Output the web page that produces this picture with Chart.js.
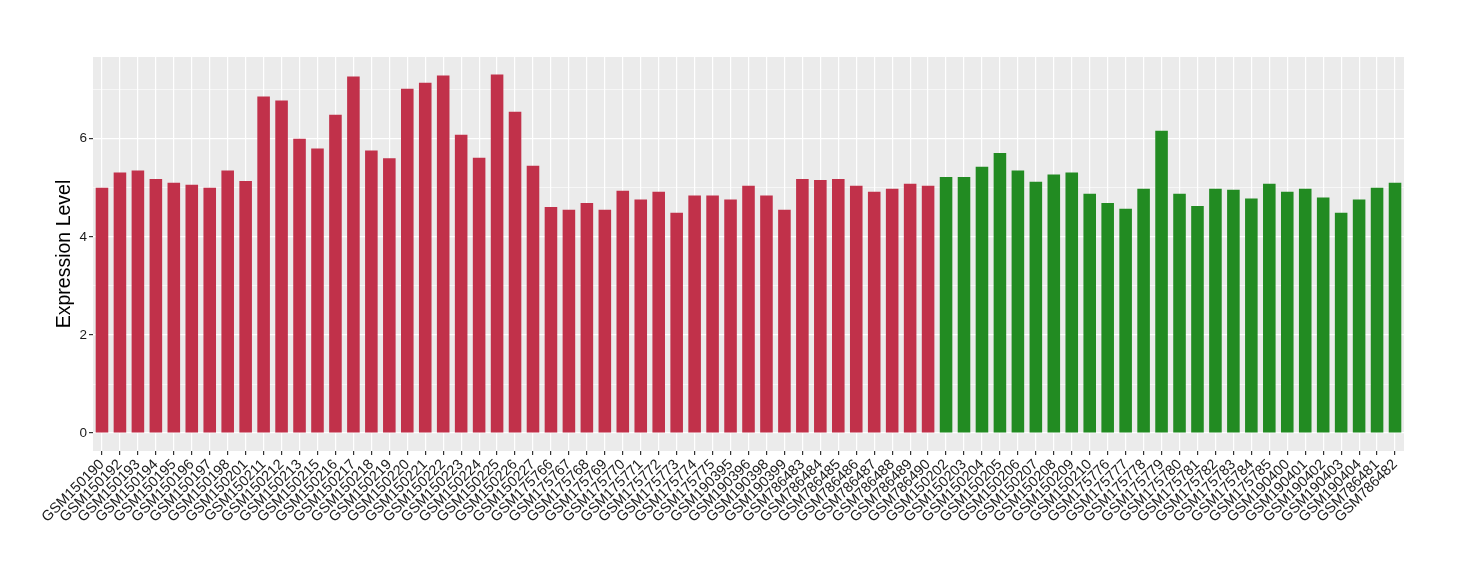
<!DOCTYPE html>
<html>
<head>
<meta charset="utf-8">
<script src="https://cdn.jsdelivr.net/npm/chart.js@4.4.0/dist/chart.umd.min.js"></script>
<style>
  body { margin: 0; background: #ffffff; }
  #wrap { width: 1460px; height: 580px; position: relative; }
</style>
</head>
<body>
<div id="wrap"><canvas id="chart1"></canvas></div>
<script>
// first group (red)
const samplesA = ['GSM150190','GSM150192','GSM150193','GSM150194','GSM150195','GSM150196','GSM150197','GSM150198','GSM150201',
  'GSM150211','GSM150212','GSM150213','GSM150215','GSM150216','GSM150217','GSM150218','GSM150219','GSM150220','GSM150221',
  'GSM150222','GSM150223','GSM150224','GSM150225','GSM150226','GSM150227','GSM175766','GSM175767','GSM175768','GSM175769',
  'GSM175770','GSM175771','GSM175772','GSM175773','GSM175774','GSM175775','GSM190395','GSM190396','GSM190398','GSM190399',
  'GSM786483','GSM786484','GSM786485','GSM786486','GSM786487','GSM786488','GSM786489','GSM786490']
const valuesA = [5.00, 5.31, 5.35, 5.18, 5.10, 5.06, 5.00, 5.35, 5.14,
  6.86, 6.78, 6.00, 5.80, 6.49, 7.27, 5.76, 5.60, 7.02, 7.14,
  7.29, 6.08, 5.61, 7.31, 6.55, 5.45, 4.61, 4.55, 4.69, 4.55,
  4.94, 4.76, 4.92, 4.49, 4.84, 4.84, 4.76, 5.04, 4.84, 4.55,
  5.18, 5.16, 5.18, 5.04, 4.92, 4.98, 5.08, 5.04]

// second group (green)
const samplesB = ['GSM150202','GSM150203','GSM150204','GSM150205','GSM150206','GSM150207','GSM150208','GSM150209','GSM150210',
  'GSM175776','GSM175777','GSM175778','GSM175779','GSM175780','GSM175781','GSM175782','GSM175783','GSM175784','GSM175785',
  'GSM190400','GSM190401','GSM190402','GSM190403','GSM190404','GSM786481','GSM786482']
const valuesB = [5.22, 5.22, 5.43, 5.71, 5.35, 5.12, 5.27, 5.31, 4.88,
  4.69, 4.57, 4.98, 6.16, 4.88, 4.63, 4.98, 4.96, 4.78, 5.08,
  4.92, 4.98, 4.80, 4.49, 4.76, 5.00, 5.10]

const yTicks = [0, 1, 2, 3, 4, 5, 6, 7]
const yLabels = [0, 2, 4, 6]

const colorA = '#C1314A'
const colorB = '#228B22'

const labels = [...samplesA, ...samplesB]
const values = [...valuesA, ...valuesB]

const panelBg = {
  id: 'panelBg',
  beforeDraw(chart) {
    const a = chart.chartArea
    const ctx = chart.ctx
    ctx.save()
    ctx.fillStyle = '#EBEBEB'
    ctx.fillRect(a.left, a.top, a.right - a.left, a.bottom - a.top)
    ctx.restore()
  }
}

const font = "'Liberation Sans', Arial, sans-serif"

const ctx = document.getElementById('chart1').getContext('2d')
const chart1 = new Chart(ctx, {
  type: 'bar',
  data: {
    labels: labels,
    datasets: [{
      data: values,
      backgroundColor: (c) => c.dataIndex < samplesA.length ? colorA : colorB,
      barPercentage: 0.7,
      categoryPercentage: 1.0,
      borderWidth: 0
    }]
  },
  options: {
    responsive: true,
    maintainAspectRatio: false,
    animation: false,
    layout: { padding: { left: 50, top: 57, right: 56, bottom: 0 } },
    plugins: {
      legend: { display: false },
      tooltip: { enabled: false }
    },
    scales: {
      x: {
        offset: true,
        border: { display: false },
        grid: {
          offset: false,
          color: '#FFFFFF',
          lineWidth: 1.2,
          drawTicks: true,
          tickLength: 4,
          tickColor: '#333333'
        },
        ticks: {
          autoSkip: false,
          maxRotation: 45,
          minRotation: 45,
          color: '#1A1A1A',
          padding: 1,
          font: { family: font, size: 14.5 }
        },
        afterFit: (scale) => { scale.height = 129 }
      },
      y: {
        min: -0.365,
        max: 7.665,
        border: { display: false },
        afterBuildTicks: (scale) => { scale.ticks = yTicks.map(v => ({ value: v })) },
        afterFit: (scale) => { scale.width = 43 },
        grid: {
          color: '#FFFFFF',
          lineWidth: (c) => yLabels.includes(c.tick && c.tick.value) ? 1.2 : 0.6,
          drawTicks: true,
          tickLength: 4,
          tickColor: (c) => yLabels.includes(c.tick && c.tick.value) ? '#333333' : 'rgba(0,0,0,0)'
        },
        ticks: {
          color: '#1A1A1A',
          padding: 2,
          font: { family: font, size: 13.5 },
          callback: (v) => yLabels.includes(v) ? String(v) : ''
        },
        title: {
          display: true,
          text: 'Expression Level',
          color: '#000000',
          font: { family: font, size: 19.5 },
          padding: 3
        }
      }
    }
  },
  plugins: [panelBg]
})
</script>
</body>
</html>
